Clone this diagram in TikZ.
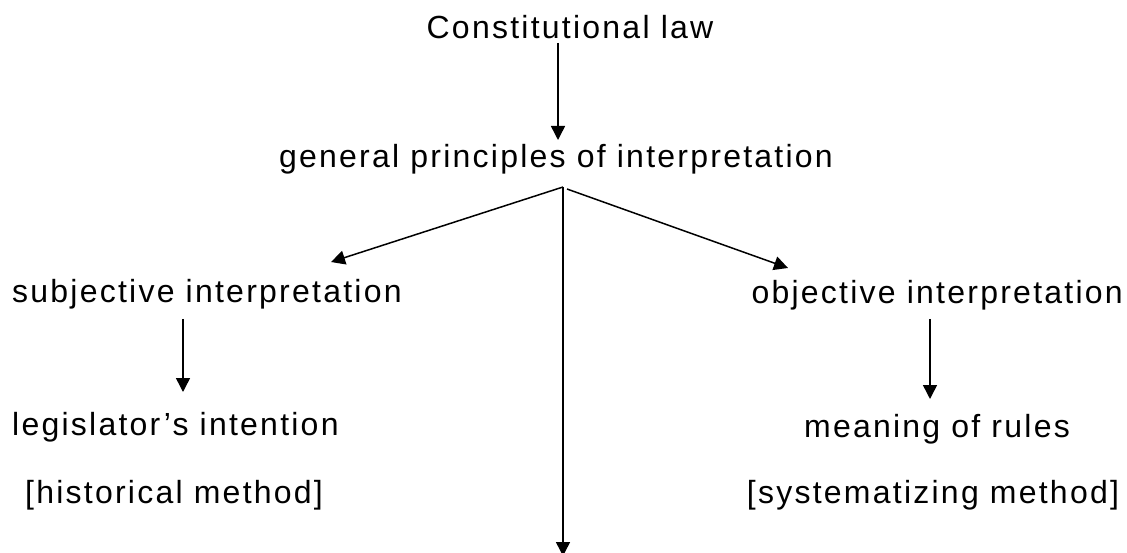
\documentclass[tikz,border=0pt]{standalone}
\usepackage{fontspec}
\setmainfont{Liberation Sans}[LetterSpace=7]
\usetikzlibrary{arrows.meta}
\begin{document}
\begin{tikzpicture}[x=1pt,y=-1pt,
  lbl/.style={inner sep=0pt,font=\fontsize{32}{38}\selectfont},
  arr/.style={line width=1.5pt,-{Triangle[length=14pt,width=14pt]}},
  ln/.style={line width=1.5pt}]
\useasboundingbox (0,0) rectangle (1127,553);
\node[lbl,anchor=base] (const) at (570,39) {Constitutional law};
\node[lbl,anchor=base] (gen) at (556,168) {general principles of interpretation};
\node[lbl,anchor=base west] (subj) at (12,303) {subjective interpretation};
\node[lbl,anchor=base east] (obj) at (1123,304) {objective interpretation};
\node[lbl,anchor=base west] (leg) at (12,435) {legislator’s intention};
\node[lbl,anchor=base west] (hist) at (25,503) {[historical method]};
\node[lbl,anchor=base] (mean) at (937,437) {meaning of rules};
\node[lbl,anchor=base] (sys) at (933,503) {[systematizing method]};
\coordinate (c1) at (558,43);
\coordinate (c2) at (558,140);
\coordinate (apex) at (563,187);
\coordinate (ltip) at (331,262);
\coordinate (rtip) at (788,268);
\coordinate (rstart) at (567,189);
\coordinate (btip) at (563,556);
\coordinate (s1) at (183,319);
\coordinate (s2) at (183,392);
\coordinate (o1) at (930,319);
\coordinate (o2) at (930,399);
\draw[arr] (c1) -- (c2);
\draw[arr] (apex) -- (ltip);
\draw[arr] (rstart) -- (rtip);
\draw[arr] (apex) -- (btip);
\draw[arr] (s1) -- (s2);
\draw[arr] (o1) -- (o2);
\end{tikzpicture}
\end{document}
